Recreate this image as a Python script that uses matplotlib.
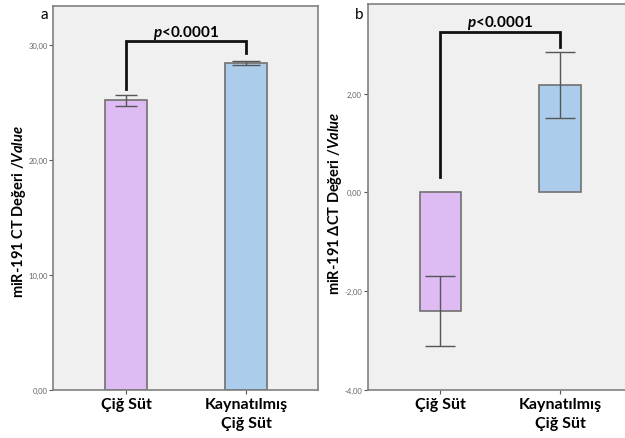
import numpy as np
import matplotlib
matplotlib.use('Agg')
import matplotlib.pyplot as plt
from matplotlib.ticker import FuncFormatter

# data
categories = ['Çiğ Süt', 'Kaynatılmış\nÇiğ Süt']
ct_mean = [25.2, 28.45]
ct_err = [0.48, 0.15]
dct_mean = [-2.41, 2.18]
dct_err = [0.71, 0.67]
p_text = r'$\mathbfit{p}$<0.0001'

bar_colors = ['#dfbbf3', '#abcdeb']
edge = '#707070'
bg = '#f0f0f0'

plt.rcParams['font.family'] = ['Lato', 'DejaVu Sans']
plt.rcParams['mathtext.fontset'] = 'custom'
plt.rcParams['mathtext.bfit'] = 'Lato:italic:bold'
plt.rcParams['mathtext.it'] = 'Lato:italic'
plt.rcParams['mathtext.rm'] = 'Lato'


def comma_fmt(v, pos):
    return f'{v:.2f}'.replace('.', ',')


def style_axis(ax, ylim, yticks):
    ax.set_facecolor(bg)
    ax.set_xlim(-0.61, 1.6)
    ax.set_ylim(*ylim)
    ax.set_yticks(yticks)
    ax.yaxis.set_major_formatter(FuncFormatter(comma_fmt))
    ax.set_xticks(range(len(categories)))
    ax.set_xticklabels(categories, fontsize=11.5, fontweight='bold',
                       linespacing=1.5)
    ax.tick_params(axis='y', length=3, width=0.8, color='#555555',
                   labelsize=5.5, labelcolor='#666666', pad=1)
    ax.tick_params(axis='x', length=3, width=0.8, color='#555555', pad=2)
    for s in ax.spines.values():
        s.set_color('#808080')
        s.set_linewidth(1.2)


def bracket(ax, x0, x1, y_left, y_top, y_right, text_y):
    ax.plot([x0, x0, x1, x1], [y_left, y_top, y_top, y_right],
            color='#111111', lw=2, solid_joinstyle='miter', zorder=5)
    ax.text((x0 + x1) / 2, text_y, p_text, ha='center', va='center',
            fontsize=11, fontweight='bold')


fig = plt.figure(figsize=(6.25, 4.39), dpi=100)
ax1 = fig.add_axes([0.0848, 0.1093, 0.424, 0.875])
ax2 = fig.add_axes([0.588, 0.110, 0.423, 0.879])

x = np.arange(len(categories))
caps1 = [8, 10]
for i in x:
    ax1.bar(i, ct_mean[i], width=0.35, color=bar_colors[i], edgecolor=edge,
            linewidth=1.2, zorder=2)
    ax1.errorbar(i, ct_mean[i], yerr=ct_err[i], color='#555555', lw=1,
                 capsize=caps1[i], capthick=1, zorder=3)
style_axis(ax1, (0, 33.4), [0, 10, 20, 30])
bracket(ax1, 0, 1, 26.2, 30.35, 29.3, 31.1)

for i in x:
    ax2.bar(i, dct_mean[i], width=0.35, color=bar_colors[i], edgecolor=edge,
            linewidth=1.2, zorder=2)
    ax2.errorbar(i, dct_mean[i], yerr=dct_err[i], color='#555555', lw=1,
                 capsize=10.5, capthick=1, zorder=3)
style_axis(ax2, (-4, 3.82), [-4, -2, 0, 2])
bracket(ax2, 0, 1, 0.32, 3.25, 2.95, 3.46)

fig.text(19 / 625, 1 - 212 / 439, r'miR-191 CT Değeri /$\mathbfit{Value}$',
         rotation=90, ha='center', va='center', fontsize=10.5, fontweight='bold')
fig.text(335 / 625, 1 - 203 / 439, r'miR-191 ΔCT Değeri /$\mathbfit{Value}$',
         rotation=90, ha='center', va='center', fontsize=10.5, fontweight='bold')
fig.text(44 / 625, 1 - 15 / 439, 'a', ha='center', va='center', fontsize=11)
fig.text(359 / 625, 1 - 15 / 439, 'b', ha='center', va='center', fontsize=11)

fig.savefig('out.png', dpi=100)
